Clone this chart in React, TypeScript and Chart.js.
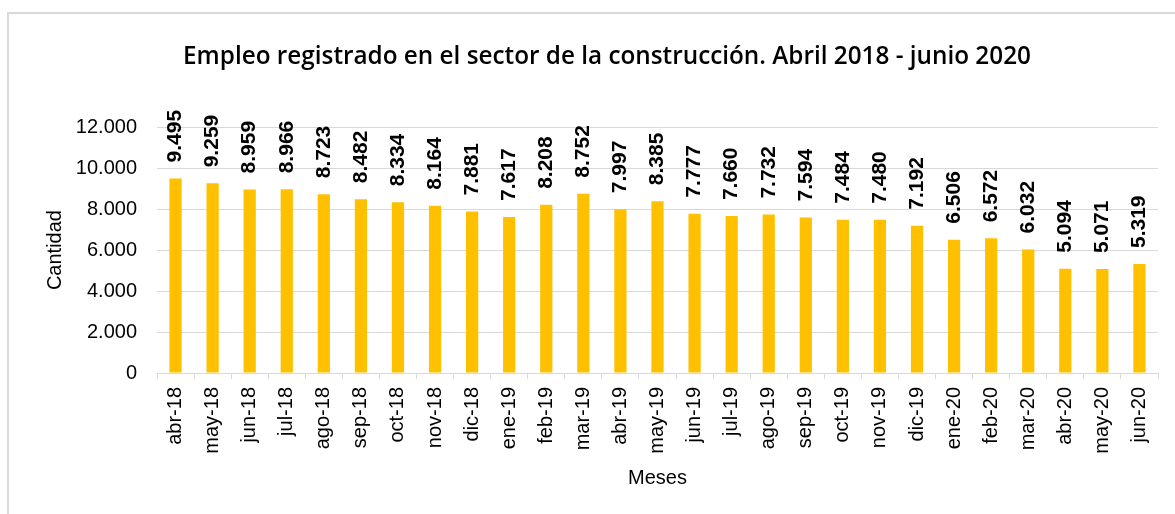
import React, { useEffect, useRef } from 'react';
import { Chart, registerables } from 'chart.js';

Chart.register(...registerables);

const categories = [
  'abr-18', 'may-18', 'jun-18', 'jul-18', 'ago-18', 'sep-18', 'oct-18', 'nov-18', 'dic-18',
  'ene-19', 'feb-19', 'mar-19', 'abr-19', 'may-19', 'jun-19', 'jul-19', 'ago-19', 'sep-19',
  'oct-19', 'nov-19', 'dic-19', 'ene-20', 'feb-20', 'mar-20', 'abr-20', 'may-20', 'jun-20',
];

const values = [
  9495, 9259, 8959, 8966, 8723, 8482, 8334, 8164, 7881,
  7617, 8208, 8752, 7997, 8385, 7777, 7660, 7732, 7594,
  7484, 7480, 7192, 6506, 6572, 6032, 5094, 5071, 5319,
];

const yMin = 0;
const yMax = 12000;
const yStep = 2000;

const titleText = 'Empleo registrado en el sector de la construcción. Abril 2018 - junio 2020';
const yTitle = 'Cantidad';
const xTitle = 'Meses';

const FONT = '"Liberation Sans", Arial, sans-serif';
const CW = 1196;
const CH = 500;

const fmt = (n: number) => String(Math.round(n)).replace(/\B(?=(\d{3})+(?!\d))/g, '.');

const barLabels = {
  id: 'barLabels',
  afterDatasetsDraw(chart: any) {
    const { ctx } = chart;
    const meta = chart.getDatasetMeta(0);
    ctx.save();
    ctx.font = `bold 21px ${FONT}`;
    ctx.fillStyle = '#000';
    ctx.textAlign = 'left';
    ctx.textBaseline = 'middle';
    meta.data.forEach((bar: any, i: number) => {
      ctx.save();
      ctx.translate(bar.x, bar.y - 16);
      ctx.rotate(-Math.PI / 2);
      ctx.fillText(fmt(values[i]), 0, 0);
      ctx.restore();
    });
    ctx.restore();
  },
};

export default function App() {
  const ref = useRef<HTMLCanvasElement | null>(null);

  useEffect(() => {
    if (!ref.current) return;
    const chart = new Chart(ref.current, {
      type: 'bar',
      data: {
        labels: categories,
        datasets: [
          {
            data: values,
            backgroundColor: '#FFC000',
            borderWidth: 0,
            barPercentage: 0.33,
            categoryPercentage: 1,
            yAxisID: 'y',
          },
        ],
      },
      options: {
        responsive: false,
        animation: false,
        devicePixelRatio: 1,
        layout: { padding: 0 },
        plugins: {
          legend: { display: false },
          tooltip: { enabled: false },
          title: {
            display: true,
            text: titleText,
            color: '#000',
            font: { family: '"Open Sans", "Noto Sans", sans-serif', size: 24.3, weight: '600' as any, lineHeight: 1.2 },
            padding: { top: 28, bottom: 56 },
          },
        },
        scales: {
          x: {
            ticks: {
              minRotation: 90,
              maxRotation: 90,
              autoSkip: false,
              padding: 8,
              color: '#000',
              font: { family: FONT, size: 20 },
            },
            grid: {
              display: true,
              offset: true,
              drawOnChartArea: false,
              drawTicks: true,
              tickLength: 6,
              color: '#d9d9d9',
            },
            border: { display: true, color: '#d9d9d9' },
            title: {
              display: true,
              text: xTitle,
              color: '#000',
              font: { family: FONT, size: 20, lineHeight: 1.2 },
              padding: { top: 0, bottom: 24 },
            },
            afterFit: (s: any) => {
              s.height = 141;
            },
          },
          y: {
            min: yMin,
            max: yMax,
            ticks: {
              stepSize: yStep,
              padding: 20,
              color: '#000',
              font: { family: FONT, size: 20 },
              callback: (v: any) => fmt(Number(v)),
            },
            grid: { color: '#d9d9d9', drawTicks: false, lineWidth: 1 },
            border: { display: false },
            title: {
              display: true,
              text: yTitle,
              color: '#000',
              font: { family: FONT, size: 20, lineHeight: 1.2 },
              padding: { top: 34, bottom: 0 },
            },
            afterFit: (s: any) => {
              s.width = 148;
            },
          },
          spacer: {
            type: 'linear',
            position: 'right',
            display: true,
            min: yMin,
            max: yMax,
            ticks: { display: false },
            grid: { display: false, drawOnChartArea: false },
            border: { display: false },
            afterFit: (s: any) => {
              s.width = 47;
            },
          },
        },
      },
      plugins: [barLabels],
    });
    return () => chart.destroy();
  }, []);

  return (
    <div
      style={{
        position: 'fixed',
        top: 12,
        left: 7,
        right: 0,
        bottom: 0,
        borderTop: '2px solid #d9d9d9',
        borderLeft: '2px solid #d9d9d9',
        overflow: 'hidden',
        background: '#fff',
      }}
    >
      <canvas ref={ref} width={CW} height={CH} style={{ display: 'block', width: CW, height: CH }} />
    </div>
  );
}
